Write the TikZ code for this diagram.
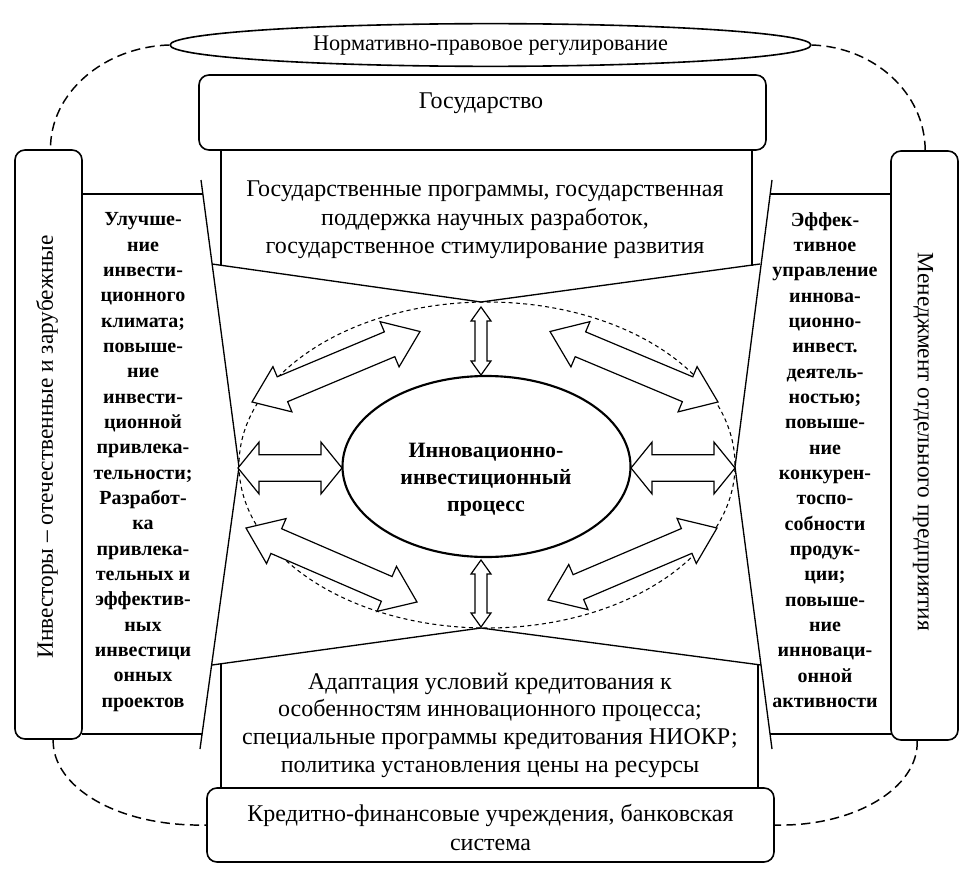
\documentclass[tikz,border=0pt]{standalone}
\usepackage{fontspec}
\setmainfont{Liberation Serif}
\usetikzlibrary{calc,shapes.geometric}
\newcommand{\dblarr}[5]{%
  \draw[blk] (#1) -- ($(#1)!#5!(#2)!#4!90:(#2)$) -- ($(#1)!#5!(#2)!#3!90:(#2)$)
   -- ($(#2)!#5!(#1)!#3!-90:(#1)$) -- ($(#2)!#5!(#1)!#4!-90:(#1)$) -- (#2)
   -- ($(#2)!#5!(#1)!#4!90:(#1)$) -- ($(#2)!#5!(#1)!#3!90:(#1)$)
   -- ($(#1)!#5!(#2)!#3!-90:(#2)$) -- ($(#1)!#5!(#2)!#4!-90:(#2)$) -- cycle;}
\begin{document}
\begin{tikzpicture}[x=0.75pt,y=-0.75pt,line width=1pt,line join=round,
  rbox/.style={draw,rounded corners=7.5pt,line width=1.2pt,inner sep=0pt},
  txt/.style={align=center,inner sep=0pt,font=\fontsize{18}{21.4}\selectfont},
  ptxt/.style={align=center,inner sep=0pt,font=\fontsize{15}{19}\selectfont\bfseries},
  rtxt/.style={inner sep=0pt,font=\fontsize{17.5}{21}\selectfont},
  outerdash/.style={dash pattern=on 7pt off 4pt,line width=1.1pt},
  orbitdash/.style={dash pattern=on 3pt off 2.5pt,line width=0.8pt},
  blk/.style={draw,fill=white,line width=0.9pt,line join=miter}]
\useasboundingbox (0,0) rectangle (974,874);

% frame boxes
\node[draw,ellipse,line width=1.2pt,minimum width=480.75pt,minimum height=32pt,inner sep=0pt] (norm) at (490.5,45) {};
\node[txt,font=\fontsize{16.7}{20}\selectfont] (normt) at (490.5,46) {Нормативно-правовое регулирование};
\node[rbox,minimum width=425.25pt,minimum height=56.25pt] (gos) at (482.5,112.5) {};
\node[txt] (gost) at (481,103) {Государство};
\node[rbox,minimum width=425.25pt,minimum height=55.5pt] (bank) at (490.5,825) {};
\node[txt,font=\fontsize{18}{21.75}\selectfont] (bankt) at (490.5,828) {Кредитно-финансовые учреждения, банковская\\система};
\node[rbox,minimum width=50.25pt,minimum height=441.75pt] (inv) at (48.5,444.5) {};
\node[rtxt,rotate=90] (invt) at (47,447) {Инвесторы – отечественные и зарубежные};
\node[rbox,minimum width=50.25pt,minimum height=441.75pt] (men) at (924.5,445.5) {};
\node[rtxt,rotate=-90] (ment) at (923,442) {Менеджмент отдельного предприятия};

% outer dashed
\draw[outerdash] (norm.west) .. controls (103.7,47) and (50,93) .. ([xshift=1.5]inv.north);
\draw[outerdash] (norm.east) .. controls (874,47) and (925,93) .. ([xshift=0.5]men.north);
\draw[outerdash] ([xshift=3.5]inv.south) .. controls (52,787) and (118,827) .. (bank.west);
\draw[outerdash] ([xshift=-5.5]men.south) .. controls (919,788) and (854,827) .. (bank.east);

% skeleton lines
\coordinate (LT) at (201,180); \coordinate (LM) at (239,467); \coordinate (LB) at (200,749);
\coordinate (RT) at (772,180); \coordinate (RM) at (735,467); \coordinate (RB) at (772,749);
\coordinate (TA) at (481,302); \coordinate (BA) at (481,628);
\draw (LT) -- (LM) -- (LB);
\draw (RT) -- (RM) -- (RB);
\draw (212,264) -- (TA) -- (760,264);
\draw (212,665) -- (BA) -- (761,665);
\draw (221,150) -- (221,265.5);
\draw (752,150) -- (752,265.5);
\draw (221,664) -- (221,788);
\draw (758,664) -- (758,788);
\draw (82,194) -- (202.9,194);
\draw (82,734) -- (202.1,734);
\draw (891,194) -- (770.2,194);
\draw (891,734) -- (770,734);

% texts of the sections
\node[txt] (prog) at (485,220) {Государственные программы, государственная\\поддержка научных разработок,\\государственное стимулирование развития};
\node[txt,font=\fontsize{18}{20.8}\selectfont] (adapt) at (490,725) {Адаптация условий кредитования к\\особенностям инновационного процесса;\\специальные программы кредитования НИОКР;\\политика установления цены на ресурсы};
\node[ptxt] (lpan) at (143,462) {Улучше-\\ние\\инвести-\\ционного\\климата;\\повыше-\\ние\\инвести-\\ционной\\привлека-\\тельности;\\Разработ-\\ка\\привлека-\\тельных и\\эффектив-\\ных\\инвестици\\онных\\проектов};
\node[ptxt] (rpan) at (825,460) {Эффек-\\тивное\\управление\\иннова-\\ционно-\\инвест.\\деятель-\\ностью;\\повыше-\\ние\\конкурен-\\тоспо-\\собности\\продук-\\ции;\\повыше-\\ние\\инноваци-\\онной\\активности};

% centre
\node[draw,ellipse,orbitdash,minimum width=372pt,minimum height=244.5pt,inner sep=0pt] (orbit) at (487,465) {};
\coordinate (a1s) at (252,402); \coordinate (a1e) at (420,331.5);
\coordinate (a2s) at (550,331.5); \coordinate (a2e) at (718,402);
\coordinate (a3s) at (246,528); \coordinate (a3e) at (417,602);
\coordinate (a4s) at (548,600); \coordinate (a4e) at (717,528);
\coordinate (a5s) at (238,468); \coordinate (a5e) at (342,468);
\coordinate (a6s) at (631,468); \coordinate (a6e) at (735,468);
\coordinate (a7s) at (481,307); \coordinate (a7e) at (481,375);
\coordinate (a8s) at (481,560); \coordinate (a8e) at (481,627);
\dblarr{a1s}{a1e}{10.1pt}{18.4pt}{24.75pt}
\dblarr{a2s}{a2e}{10.1pt}{18.4pt}{24.75pt}
\dblarr{a3s}{a3e}{10.1pt}{18.4pt}{24.75pt}
\dblarr{a4s}{a4e}{10.1pt}{18.4pt}{24.75pt}
\dblarr{a5s}{a5e}{10pt}{19.4pt}{15.75pt}
\dblarr{a6s}{a6e}{10pt}{19.4pt}{15.75pt}
\dblarr{a7s}{a7e}{4.5pt}{7.5pt}{10.5pt}
\dblarr{a8s}{a8e}{4.5pt}{7.5pt}{10.5pt}
\node[draw,ellipse,line width=1.6pt,minimum width=216pt,minimum height=135.75pt,inner sep=0pt] (proc) at (486.5,466.5) {};
\node[txt,font=\fontsize{16.4}{20.3}\selectfont\bfseries] (proct) at (486,480) {Инновационно-\\инвестиционный\\процесс};
\end{tikzpicture}
\end{document}
